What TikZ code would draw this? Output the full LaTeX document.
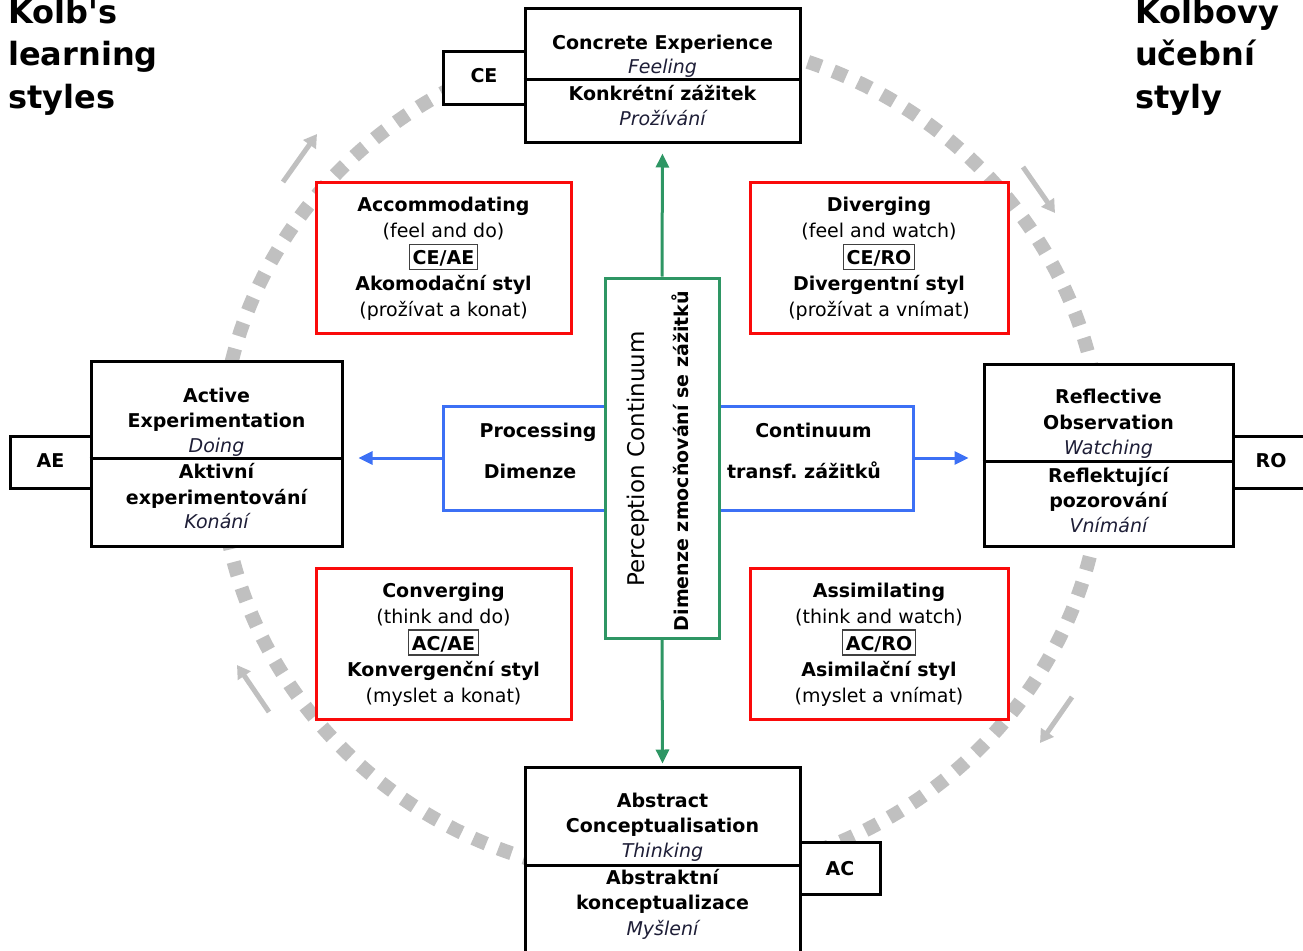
\documentclass[tikz,border=0pt]{standalone}
\usepackage{fontspec}
\setmainfont{DejaVu Sans}
\usetikzlibrary{arrows.meta,calc}
\definecolor{kred}{RGB}{250,10,10}
\definecolor{kblue}{RGB}{60,112,245}
\definecolor{kgreen}{RGB}{46,150,100}
\definecolor{kgray}{RGB}{192,192,192}
\definecolor{kital}{RGB}{30,30,55}
\newcommand\kline[5]{\node[#1] (#2) at (#3,#4) {#5};}
\tikzset{
  bbox/.style={draw=black, line width=3pt, fill=white, inner sep=0pt},
  rbox/.style={draw=kred, line width=3pt, fill=white, inner sep=0pt},
  bluebox/.style={draw=kblue, line width=3pt, fill=white, inner sep=0pt},
  greenbox/.style={draw=kgreen, line width=3pt, fill=white, inner sep=0pt},
  tb/.style={font=\fontsize{19}{23}\selectfont\bfseries, anchor=base, inner sep=0pt},
  tr/.style={font=\fontsize{19}{23}\selectfont, anchor=base, inner sep=0pt},
  ti/.style={font=\fontsize{19}{23}\selectfont\itshape, text=kital, anchor=base, inner sep=0pt},
  tagbox/.style={font=\fontsize{19}{23}\selectfont\bfseries, anchor=base, draw=black!75, line width=1.2pt,
     inner xsep=3pt, inner ysep=5pt, text height=15pt, text depth=0pt},
  ttl/.style={font=\fontsize{32}{40}\selectfont\bfseries, anchor=base west, inner sep=0pt},
  divline/.style={line width=3pt, draw=black},
  cycledash/.style={draw=kgray, line width=14pt, dash pattern=on 14pt off 13pt},
  garr/.style={draw=kgray, line width=5pt, -{Triangle[width=15pt,length=13pt]}},
  greenarr/.style={draw=kgreen, line width=3pt, -{Triangle[width=13pt,length=14pt]}},
  bluearr/.style={draw=kblue, line width=3pt, -{Triangle[width=13pt,length=14pt]}},
}
\begin{document}
\begin{tikzpicture}[x=1pt,y=-1pt]
\useasboundingbox (0,0) rectangle (1303,950);
% background cycle
\draw[cycledash] (661,458) ellipse [x radius=441pt, y radius=420pt];
% gray direction arrows
\coordinate (g1a) at (283,182); \coordinate (g1b) at (317,134);
\coordinate (g2a) at (1023,167); \coordinate (g2b) at (1055,213);
\coordinate (g3a) at (1072,697); \coordinate (g3b) at (1040,743);
\coordinate (g4a) at (269,712); \coordinate (g4b) at (237,665);
\draw[garr] (g1a) -- (g1b);
\draw[garr] (g2a) -- (g2b);
\draw[garr] (g3a) -- (g3b);
\draw[garr] (g4a) -- (g4b);

% titles
\kline{ttl}{tl1}{8}{24}{Kolb\textquotesingle s}
\kline{ttl}{tl2}{8}{66}{learning}
\kline{ttl}{tl3}{8}{108}{styles}
\kline{ttl}{tr1}{1135}{24}{Kolbovy}
\kline{ttl}{tr2}{1135}{66}{učební}
\kline{ttl}{tr3}{1135}{108}{styly}

% small tag boxes
\node[bbox, minimum width=82, minimum height=52] (ceS) at (484,78) {};
\node[bbox, minimum width=81, minimum height=52] (aeS) at (50.5,462) {};
\node[bbox, minimum width=87, minimum height=52] (roS) at (1276.5,462) {};
\node[bbox, minimum width=80, minimum height=52] (acS) at (840,868) {};

% big pole boxes
\node[bbox, minimum width=275, minimum height=133] (ce) at (662.5,75.5) {};
\node[bbox, minimum width=251, minimum height=185] (ae) at (216.5,453.5) {};
\node[bbox, minimum width=249, minimum height=182] (ro) at (1108.5,455) {};
\node[bbox, minimum width=275, minimum height=198] (ac) at (662.5,866) {};
\draw[divline] (ce.west |- 0,79) -- (ce.east |- 0,79);
\draw[divline] (ae.west |- 0,458) -- (ae.east |- 0,458);
\draw[divline] (ro.west |- 0,461.5) -- (ro.east |- 0,461.5);
\draw[divline] (ac.west |- 0,865) -- (ac.east |- 0,865);

\kline{tb}{aeT}{50.5}{467}{AE}
\kline{tb}{ceT}{484}{82}{CE}
\kline{tb}{roT}{1271}{467}{RO}
\kline{tb}{acT}{840}{875}{AC}

% CE text
\kline{tb}{ce1}{662.5}{50}{Concrete Experience}
\kline{ti}{ce2}{662.5}{74}{Feeling}
\kline{tb}{ce3}{662.5}{100}{Konkrétní zážitek}
\kline{ti}{ce4}{662.5}{125}{Prožívání}
% AE text
\kline{tb}{ae1}{216.5}{402}{Active}
\kline{tb}{ae2}{216.5}{427}{Experimentation}
\kline{ti}{ae3}{216.5}{452}{Doing}
\kline{tb}{ae4}{216.5}{478}{Aktivní}
\kline{tb}{ae5}{216.5}{504}{experimentování}
\kline{ti}{ae6}{216.5}{528}{Konání}
% RO text
\kline{tb}{ro1}{1108.5}{403}{Reflective}
\kline{tb}{ro2}{1108.5}{429}{Observation}
\kline{ti}{ro3}{1108.5}{454}{Watching}
\kline{tb}{ro4}{1108.5}{482}{Reflektující}
\kline{tb}{ro5}{1108.5}{507}{pozorování}
\kline{ti}{ro6}{1108.5}{532}{Vnímání}
% AC text
\kline{tb}{ac1}{662.5}{807}{Abstract}
\kline{tb}{ac2}{662.5}{832}{Conceptualisation}
\kline{ti}{ac3}{662.5}{857}{Thinking}
\kline{tb}{ac4}{662.5}{884}{Abstraktní}
\kline{tb}{ac5}{662.5}{909}{konceptualizace}
\kline{ti}{ac6}{662.5}{935}{Myšlení}

% style boxes
\node[rbox, minimum width=255, minimum height=151] (acc) at (443.5,257.5) {};
\node[rbox, minimum width=258, minimum height=151] (dvg) at (879,257.5) {};
\node[rbox, minimum width=255, minimum height=151] (cnv) at (443.5,643.5) {};
\node[rbox, minimum width=258, minimum height=151] (asm) at (879,643.5) {};

\kline{tb}{acc1}{443.5}{211.5}{Accommodating}
\kline{tr}{acc2}{443.5}{237.5}{(feel and do)}
\kline{tagbox}{acc3}{443.5}{264.5}{CE/AE}
\kline{tb}{acc4}{443.5}{290.5}{Akomodační styl}
\kline{tr}{acc5}{443.5}{316.5}{(prožívat a konat)}

\kline{tb}{dvg1}{879}{211.5}{Diverging}
\kline{tr}{dvg2}{879}{237.5}{(feel and watch)}
\kline{tagbox}{dvg3}{879}{264.5}{CE/RO}
\kline{tb}{dvg4}{879}{290.5}{Divergentní styl}
\kline{tr}{dvg5}{879}{316.5}{(prožívat a vnímat)}

\kline{tb}{cnv1}{443.5}{597}{Converging}
\kline{tr}{cnv2}{443.5}{623}{(think and do)}
\kline{tagbox}{cnv3}{443.5}{650}{AC/AE}
\kline{tb}{cnv4}{443.5}{676}{Konvergenční styl}
\kline{tr}{cnv5}{443.5}{702}{(myslet a konat)}

\kline{tb}{asm1}{879}{597}{Assimilating}
\kline{tr}{asm2}{879}{623}{(think and watch)}
\kline{tagbox}{asm3}{879}{650}{AC/RO}
\kline{tb}{asm4}{879}{676}{Asimilační styl}
\kline{tr}{asm5}{879}{702}{(myslet a vnímat)}

% processing continuum (blue)
\node[bluebox, minimum width=470, minimum height=104] (proc) at (678,458) {};
\draw[bluearr, shorten >=15pt] (proc.west) -- (proc.west -| ae.east);
\draw[bluearr, shorten >=14pt] (proc.east) -- (proc.east -| ro.west);

% perception continuum (green)
\node[greenbox, minimum width=114, minimum height=360] (pc) at (662,458) {};
\draw[greenarr, shorten >=10pt] (pc.north) -- (ce.south);
\draw[greenarr, shorten >=2pt] (pc.south) -- (ac.north);

\kline{tb}{pr1}{538}{437}{Processing}
\kline{tb}{pr2}{530}{478}{Dimenze}
\kline{tb}{pr3}{813.5}{437}{Continuum}
\kline{tb}{pr4}{804}{478}{transf.\ zážitků}

\node[font=\fontsize{23}{27}\selectfont, anchor=base, inner sep=0pt, rotate=90] (pc1) at (644,459) {Perception Continuum};
\node[font=\fontsize{19}{23}\selectfont\bfseries, anchor=base, inner sep=0pt, rotate=90] (pc2) at (688,461) {Dimenze zmocňování se zážitků};
\end{tikzpicture}
\end{document}
